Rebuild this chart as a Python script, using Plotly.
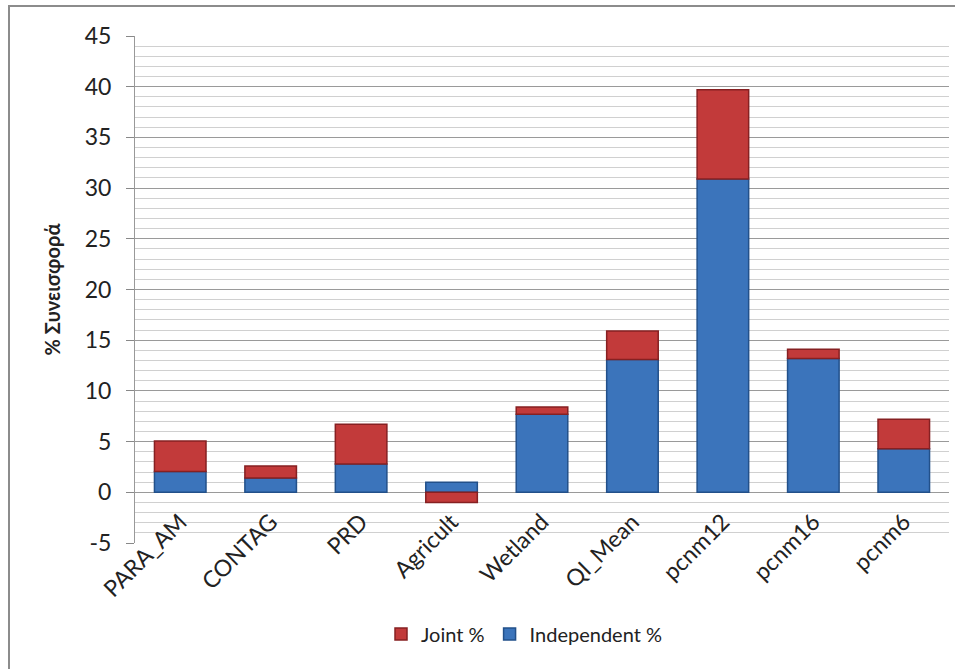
import plotly.graph_objects as go

# Variance partitioning: independent and joint contribution of each predictor
categories = ["PARA_AM", "CONTAG", "PRD", "Agricult", "Wetland",
              "QI_Mean", "pcnm12", "pcnm16", "pcnm6"]
independent_pct = [2.05, 1.4, 2.8, 1.0, 7.7, 13.1, 30.9, 13.2, 4.3]
joint_pct = [3.0, 1.2, 3.9, -1.0, 0.7, 2.8, 8.8, 0.9, 2.9]

y_ticks = list(range(-5, 46, 5))
y_tick_text = [str(v) for v in y_ticks]

W, H = 955, 669
L, R, T, B = 135, 6, 36, 126
pw, ph = W - L - R, H - T - B

def px_x(p):
    return (p - L) / pw

def px_y(p):
    return (H - B - p) / ph

FONT = "Lato, 'Open Sans', sans-serif"

fig = go.Figure()
fig.add_trace(go.Bar(
    x=categories, y=independent_pct, name="Independent %",
    marker=dict(color="#3b74bb", line=dict(color="#22508a", width=1.5)),
    width=0.57,
))
fig.add_trace(go.Bar(
    x=categories, y=joint_pct, name="Joint %",
    marker=dict(color="#c23a3a", line=dict(color="#862022", width=1.5)),
    width=0.57,
))

fig.update_layout(
    width=W, height=H,
    margin=dict(l=L, r=R, t=T, b=B, pad=0),
    barmode="relative",
    paper_bgcolor="white",
    plot_bgcolor="white",
    font=dict(family=FONT, size=21, color="#222"),
    showlegend=True,
    legend=dict(
        orientation="h", traceorder="reversed",
        x=px_x(524), xanchor="center", y=px_y(634), yanchor="middle",
        font=dict(size=20), itemwidth=30,
    ),
    xaxis=dict(
        tickangle=-45, showgrid=False, showline=False, ticks="",
        tickfont=dict(size=23), ticklabelstandoff=-40,
    ),
    yaxis=dict(
        range=[-5, 45], tickvals=y_ticks, ticktext=y_tick_text,
        ticks="outside", ticklen=8, ticklabelstandoff=10,
        tickcolor="#888", showline=True, linecolor="#999", linewidth=1,
        showgrid=True, gridcolor="#9a9a9a", gridwidth=1,
        zeroline=False,
        minor=dict(dtick=1, showgrid=True, gridcolor="#d0d0d0", gridwidth=1),
        tickfont=dict(size=23),
        title=dict(text="<b>% Συνεισφορά</b>", font=dict(size=20), standoff=18),
    ),
    shapes=[dict(
        type="rect", xref="paper", yref="paper",
        x0=px_x(9), x1=px_x(960), y0=px_y(680), y1=px_y(6),
        line=dict(color="#8c8c8c", width=2), layer="below",
    )],
)

fig.write_html("out.html")
